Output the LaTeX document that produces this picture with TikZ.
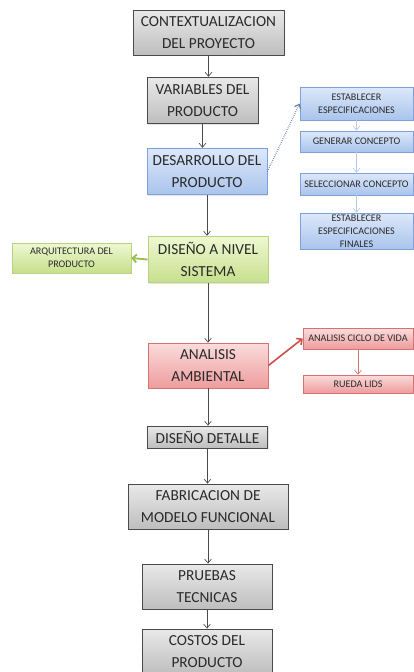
\documentclass[tikz,border=0pt]{standalone}
\usepackage{fontspec}
\setmainfont{Carlito}
\usetikzlibrary{arrows.meta,shadows}
\definecolor{PGrey}{HTML}{E9E9E9}
\definecolor{PGreyDk}{HTML}{BEBEBE}
\definecolor{PBlue}{HTML}{DDE8FA}
\definecolor{PBlueDk}{HTML}{A9C4EC}
\definecolor{PBlueLn}{HTML}{7FA0D8}
\definecolor{PGreen}{HTML}{EFF8D2}
\definecolor{PGreenDk}{HTML}{C6E08C}
\definecolor{PGreenLn}{HTML}{9CC04E}
\definecolor{PRed}{HTML}{FBDCDC}
\definecolor{PRedDk}{HTML}{EE9C9C}
\definecolor{PRedLn}{HTML}{C9504D}
\definecolor{PInk}{HTML}{2A2A2A}

\begin{document}
\begin{tikzpicture}[
    x=0.75pt,y=-0.75pt,font=\fontsize{11.5}{16.5}\selectfont,text=PInk,
    main/.style={draw=PInk!85,line width=0.6pt,align=center,inner sep=1pt,
      minimum width=90pt,minimum height=35pt,
      drop shadow={shadow xshift=1pt,shadow yshift=-1pt,opacity=0.2}},
    grey/.style={main,top color=PGrey,bottom color=PGreyDk},
    blue/.style={main,top color=PBlue,bottom color=PBlueDk,draw=PBlueLn},
    green/.style={main,top color=PGreen,bottom color=PGreenDk,draw=PGreenLn!70},
    red/.style={main,top color=PRed,bottom color=PRedDk,draw=PRedLn!80},
    side/.style={font=\fontsize{7.6}{9.8}\selectfont,minimum width=84.75pt,
      line width=0.4pt},
    arrow/.style={-{Straight Barb[length=3pt,width=5pt]},line width=0.5pt,draw=PInk!85},
    barrow/.style={arrow,draw=PBlueLn!55},
    bline/.style={arrow,draw=PBlueLn!80!black,densely dotted,line width=0.9pt},
    garrow/.style={-{Straight Barb[length=3pt,width=6pt]},line width=1.4pt,draw=PGreenLn},
    rarrow/.style={-{Straight Barb[length=3pt,width=6pt]},line width=1.2pt,draw=PRedLn},
    rthin/.style={arrow,draw=PRedLn!80}
  ]
    \useasboundingbox (0,0) rectangle (414,672);
    % main column
    \node[grey,minimum width=113.25pt,minimum height=33.75pt] (ctx) at (208.5,32.5) {CONTEXTUALIZACION\\DEL PROYECTO};
    \node[grey,minimum width=83.25pt] (var) at (202.5,100.5) {VARIABLES DEL\\PRODUCTO};
    \node[blue] (des) at (207,171.5) {DESARROLLO DEL\\PRODUCTO};
    \node[green] (dns) at (208,259.5) {DISEÑO A NIVEL\\SISTEMA};
    \node[red,minimum height=33.75pt] (amb) at (208,365.5) {ANALISIS\\AMBIENTAL};
    \node[grey,minimum height=16.5pt] (det) at (207.5,437) {DISEÑO DETALLE};
    \node[grey,minimum width=120pt,minimum height=33.75pt] (fab) at (208,506.5) {FABRICACION DE\\MODELO FUNCIONAL};
    \node[grey,minimum width=97.5pt,minimum height=33.75pt] (pru) at (207,586.5) {PRUEBAS\\TECNICAS};
    \node[grey,minimum width=97.5pt,minimum height=33.75pt] (cos) at (207,651.5) {COSTOS DEL\\PRODUCTO};

    % side boxes
    \node[blue,side,minimum height=24.75pt] (est1) at (356.5,103.5) {ESTABLECER\\ESPECIFICACIONES};
    \node[blue,side,minimum height=15.75pt] (gen) at (356.5,141.5) {GENERAR CONCEPTO};
    \node[blue,side,minimum height=16.5pt] (sel) at (356.5,184) {SELECCIONAR CONCEPTO};
    \node[blue,side,minimum height=27pt] (est2) at (356.5,231) {ESTABLECER\\ESPECIFICACIONES\\FINALES};
    \node[green,side,minimum width=89.25pt,minimum height=22.5pt] (arq) at (71.5,258) {ARQUITECTURA DEL\\PRODUCTO};
    \node[red,side,minimum width=82.5pt,minimum height=15.75pt] (acv) at (358,338.5) {ANALISIS CICLO DE VIDA};
    \node[red,side,minimum width=82.5pt,minimum height=13.5pt] (rue) at (358,384) {RUEDA LIDS};

    \draw[arrow] (ctx.south) -- (ctx.south |- var.north);
    \draw[arrow] (var.south) -- (var.south |- des.north);
    \draw[arrow] (des.south) -- (des.south |- dns.north);
    \draw[arrow] (dns.south) -- (dns.south |- amb.north);
    \draw[arrow] (amb.south) -- (amb.south |- det.north);
    \draw[arrow] (det.south) -- (det.south |- fab.north);
    \draw[arrow] (fab.south) -- (fab.south |- pru.north);
    \draw[arrow] (pru.south) -- (pru.south |- cos.north);

    \draw[bline] (des.east) -- (est1.west);
    \draw[barrow] (est1) -- (gen);
    \draw[barrow] (gen) -- (sel);
    \draw[barrow] (sel) -- (est2);
    \draw[garrow] (dns.west) -- (arq.east);
    \draw[rarrow] (amb.east) -- (acv.west);
    \draw[rthin] (acv) -- (rue);
  \end{tikzpicture}
\end{document}
